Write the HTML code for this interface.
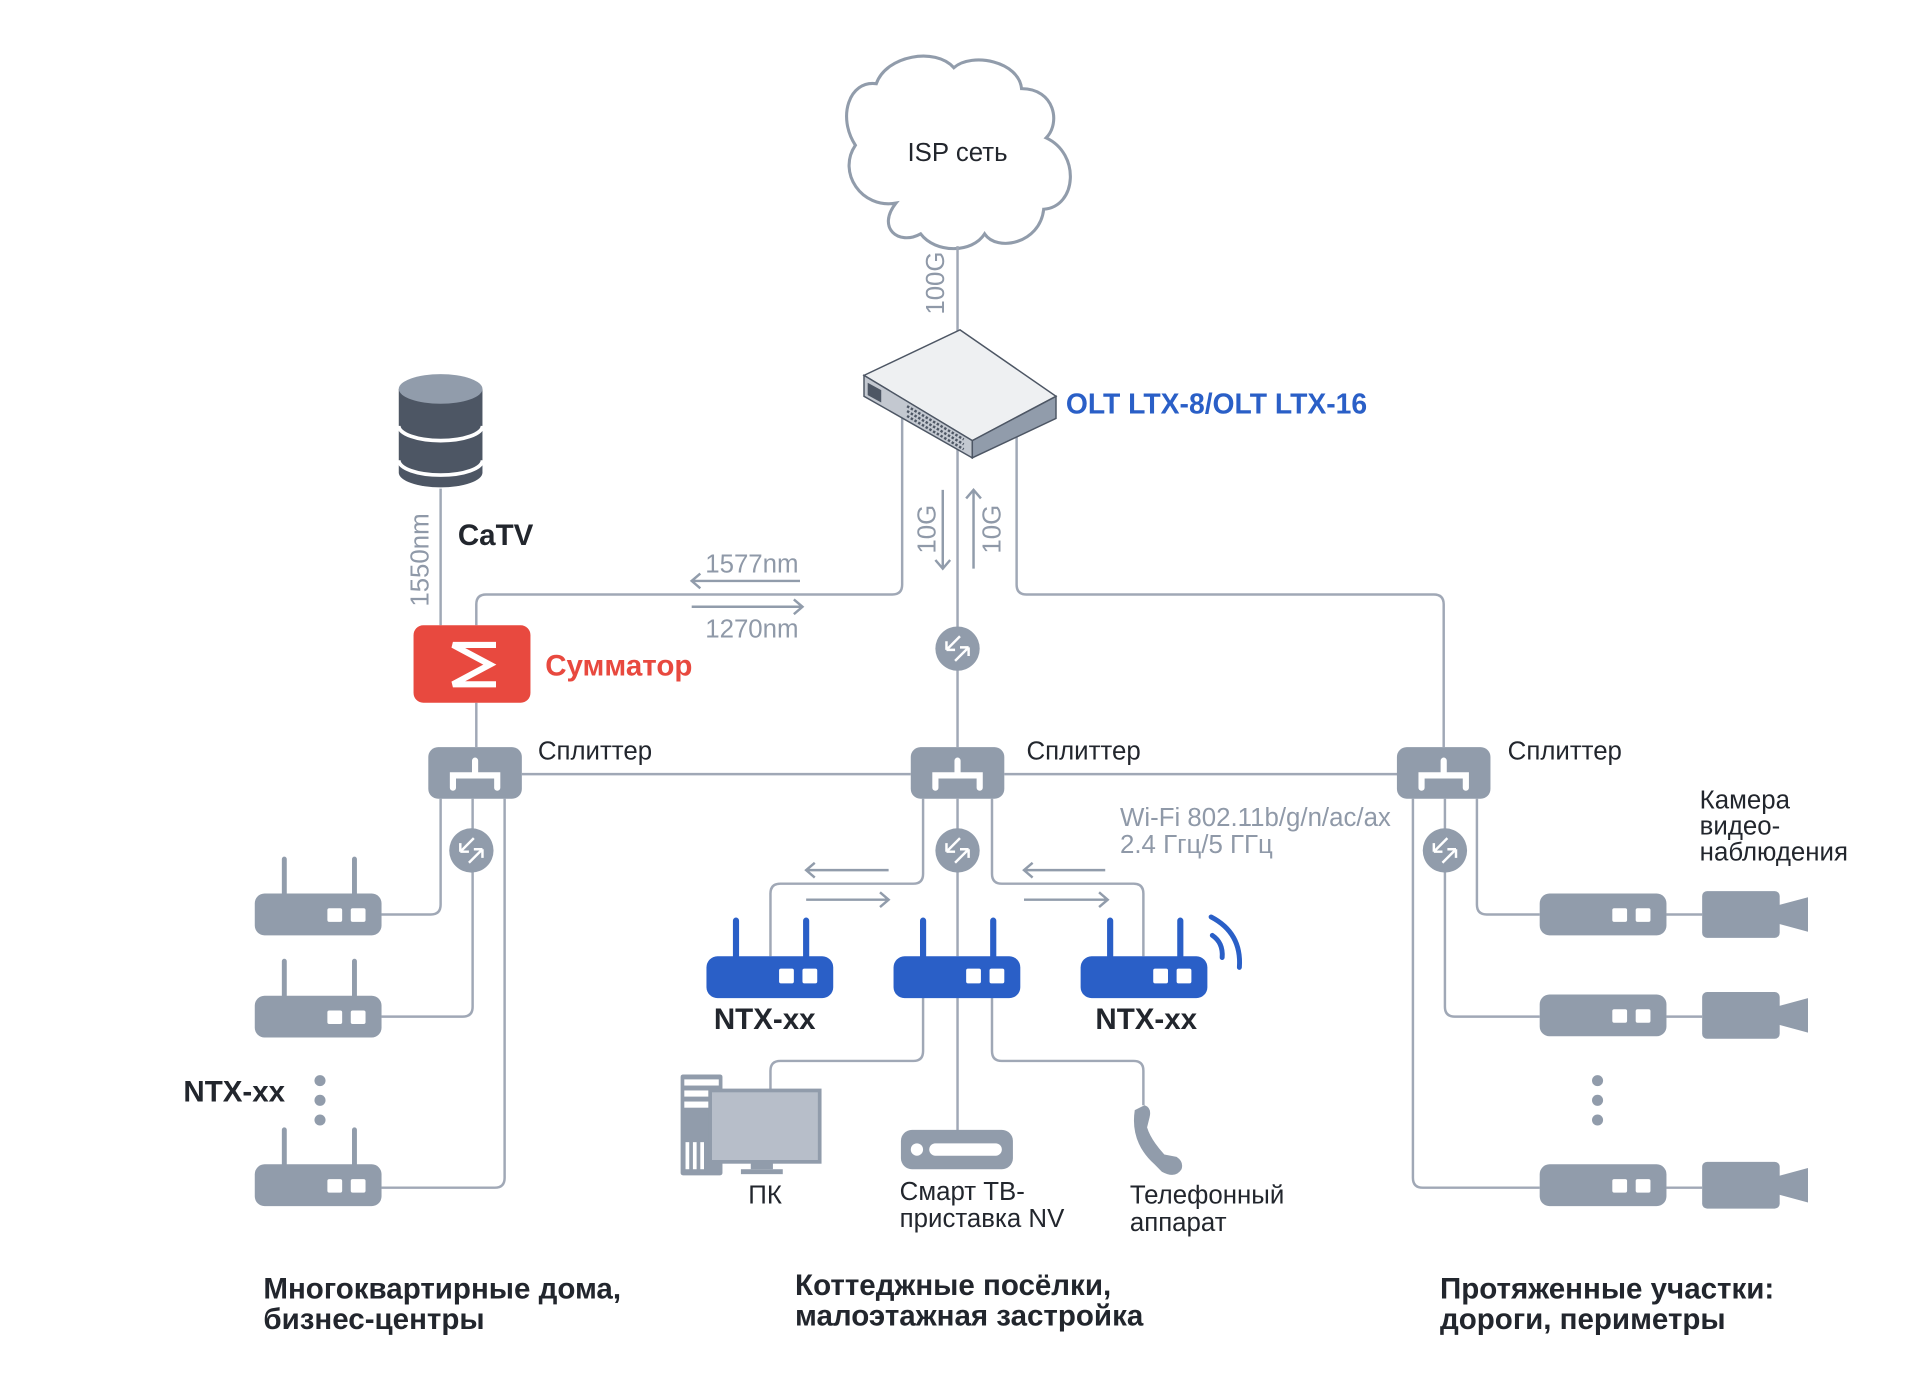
<!DOCTYPE html>
<html><head><meta charset="utf-8"><style>
html,body{margin:0;padding:0;background:#fff;}
svg{display:block;}
text{font-family:"Liberation Sans","DejaVu Sans",sans-serif;}
</style></head><body>
<svg width="1920" height="1400" viewBox="0 0 1560 1137.5" preserveAspectRatio="none" xmlns="http://www.w3.org/2000/svg">
<defs>
<g id="circ"><circle r="18" fill="#919cab"/><path d="M2,-10 L-9,1 M-9,1 v-7 M-9,1 h7 M-2,10 L9,-1 M9,-1 h-7 M9,-1 v7" stroke="#fff" stroke-width="2" fill="none"/></g>
<g id="spl"><rect x="-38" y="-21" width="76" height="42" rx="8" fill="#919cab"/><path d="M-18,12 v-10 h36 v10 M0,2 v-12" stroke="#fff" stroke-width="5" fill="none" stroke-linecap="round"/></g>
<g id="grt"><rect x="0" y="0" width="103" height="34" rx="8" fill="#919cab"/><rect x="59" y="12" width="12" height="11" rx="1.5" fill="#fff"/><rect x="78" y="12" width="12" height="11" rx="1.5" fill="#fff"/></g>
<g id="ant"><path d="M24,0 v-28 M81,0 v-28" stroke="#919cab" stroke-width="4" stroke-linecap="round"/></g>
<g id="brt"><rect x="0" y="0" width="103" height="34" rx="9" fill="#2a5fc7"/><rect x="59" y="10" width="12" height="12" rx="1.5" fill="#fff"/><rect x="78" y="10" width="12" height="12" rx="1.5" fill="#fff"/><path d="M24,0 v-29 M81,0 v-29" stroke="#2a5fc7" stroke-width="5" stroke-linecap="round"/></g>
<g id="cam"><rect x="0" y="0" width="63" height="38" rx="4" fill="#919cab"/><path d="M60,12 L86,5 L86,33 L60,26 Z" fill="#919cab"/></g>
</defs>
<g fill="none" stroke="#a0a8b6" stroke-width="2">
<path d="M728,165 C700,170 680,140 695,118 C680,95 690,65 712,68 C720,45 760,38 775,55 C790,42 828,50 830,72 C857,72 862,100 850,112 C878,125 875,168 848,170 C845,198 810,205 800,190 C790,206 760,206 748,190 C730,200 712,185 728,165 Z" stroke="#919cab" stroke-width="2.5"/>
<path d="M778,200 V290"/>
<path d="M733,330 V475 Q733,483 725,483 H395 Q387,483 387,491 V508"/>
<path d="M778,360 V607"/>
<path d="M826,355 V475 Q826,483 834,483 H1165 Q1173,483 1173,491 V607"/>
<path d="M358,397 V508"/>
<path d="M387,571 V607"/>
<path d="M424,629 H740 M816,629 H1136"/>
<path d="M766,398 V462 M760,455 L766,462 L772,455" stroke="#919cab"/>
<path d="M791,462 V398 M785,405 L791,398 L797,405" stroke="#919cab"/>
<path d="M650,472 H562 M569,466 L562,472 L569,478" stroke="#919cab"/>
<path d="M562,493 H652 M645,487 L652,493 L645,499" stroke="#919cab"/>
<path d="M358,649 V735 Q358,743 350,743 H310"/>
<path d="M384,649 V818 Q384,826 376,826 H310"/>
<path d="M410,649 V957 Q410,965 402,965 H310"/>
<path d="M750,649 V710 Q750,718 742,718 H634 Q626,718 626,726 V777"/>
<path d="M806,649 V710 Q806,718 814,718 H921 Q929,718 929,726 V777"/>
<path d="M778,649 V777"/>
<path d="M722,707 H655 M662,701 L655,707 L662,713 M655,731 H722 M715,725 L722,731 L715,737" stroke="#919cab"/>
<path d="M898,707 H832 M839,701 L832,707 L839,713 M832,731 H900 M893,725 L900,731 L893,737" stroke="#919cab"/>
<path d="M750,810 V854 Q750,862 742,862 H634 Q626,862 626,870 V887"/>
<path d="M778,810 V920"/>
<path d="M806,810 V854 Q806,862 814,862 H921 Q929,862 929,870 V898"/>
<path d="M1200,649 V735 Q1200,743 1208,743 H1251 M1354,743 H1383"/>
<path d="M1174,649 V818 Q1174,826 1182,826 H1251 M1354,826 H1383"/>
<path d="M1148,649 V957 Q1148,965 1156,965 H1251 M1354,965 H1383"/>
</g>
<polygon points="702,305 780,268 858,322 790,358" fill="#eef0f2" stroke="#4d5664" stroke-width="1.2"/>
<polygon points="702,305 790,358 790,372 702,322" fill="#c3c8d0" stroke="#4d5664" stroke-width="1.2"/>
<polygon points="790,358 858,322 858,340 790,372" fill="#919cab" stroke="#4d5664" stroke-width="1.2"/>
<polygon points="705,311 716,317 716,327 705,321" fill="#4d5664"/>
<path d="M737,330 L783,357 M737,334 L783,361 M737,338 L783,365" stroke="#4d5664" stroke-width="2" stroke-dasharray="2,1.5"/>
<path d="M324,316 V384 A34,12 0 0 0 392,384 V316 Z" fill="#4d5664"/>
<ellipse cx="358" cy="316" rx="34" ry="12" fill="#919cab"/>
<path d="M324,346 A34,12 0 0 0 392,346 M324,374 A34,12 0 0 0 392,374" stroke="#fff" stroke-width="3" fill="none"/>
<rect x="336" y="508" width="95" height="63" rx="8" fill="#e8493f"/>
<path d="M403,524 H368 L398,540 L368,556 H403" stroke="#fff" stroke-width="5" fill="none"/>
<use href="#circ" x="778" y="527"/>
<use href="#spl" x="386" y="628"/><use href="#spl" x="778" y="628"/><use href="#spl" x="1173" y="628"/>
<use href="#circ" x="383" y="691"/><use href="#circ" x="778" y="691"/><use href="#circ" x="1174" y="691"/>
<use href="#grt" x="207" y="726"/><use href="#ant" x="207" y="726"/>
<use href="#grt" x="207" y="809"/><use href="#ant" x="207" y="809"/>
<use href="#grt" x="207" y="946"/><use href="#ant" x="207" y="946"/>
<g fill="#919cab"><circle cx="260" cy="878" r="4.5"/><circle cx="260" cy="894" r="4.5"/><circle cx="260" cy="910" r="4.5"/>
<circle cx="1298" cy="878" r="4.5"/><circle cx="1298" cy="894" r="4.5"/><circle cx="1298" cy="910" r="4.5"/></g>
<use href="#brt" x="574" y="777"/><use href="#brt" x="726" y="777"/><use href="#brt" x="878" y="777"/>
<path d="M985,760 Q994,766 993,778 M984,745 Q1009,758 1007,786" stroke="#2a5fc7" stroke-width="4" fill="none" stroke-linecap="round"/>
<rect x="553" y="873" width="34" height="82" rx="2" fill="#919cab"/>
<g fill="#fff"><rect x="556" y="877" width="28" height="5"/><rect x="556" y="886" width="28" height="5"/><rect x="556" y="895" width="28" height="5"/>
<rect x="557" y="928" width="3" height="22"/><rect x="563" y="928" width="3" height="22"/><rect x="569" y="928" width="3" height="22"/></g>
<rect x="577" y="886" width="89" height="58" fill="#b7bec9" stroke="#919cab" stroke-width="3"/>
<rect x="610" y="944" width="18" height="6" fill="#919cab"/><rect x="602" y="950" width="34" height="4" fill="#919cab"/>
<rect x="732" y="918" width="91" height="32" rx="9" fill="#919cab"/>
<circle cx="745" cy="934" r="5" fill="#fff"/><rect x="755" y="929" width="59" height="10" rx="5" fill="#fff"/>
<path d="M922,902 Q918,928 938,946 L944,952 Q955,958 960,950 Q962,944 956,940 L946,938 Q935,926 932,916 L934,908 Q936,900 930,898 Z" fill="#919cab"/>
<use href="#grt" x="1251" y="726"/><use href="#grt" x="1251" y="808"/><use href="#grt" x="1251" y="946"/>
<use href="#cam" x="1383" y="724"/><use href="#cam" x="1383" y="806"/><use href="#cam" x="1383" y="944"/>
<g fill="#22262d" font-size="21">
<text x="778" y="131" text-anchor="middle">ISP сеть</text>
<text x="437" y="617">Сплиттер</text>
<text x="834" y="617">Сплиттер</text>
<text x="1225" y="617">Сплиттер</text>
<text x="608" y="978">ПК</text>
<text x="731" y="975">Смарт ТВ-</text>
<text x="731" y="997">приставка NV</text>
<text x="918" y="978">Телефонный</text>
<text x="918" y="1000">аппарат</text>
<text x="1381" y="657">Камера</text>
<text x="1381" y="678">видео-</text>
<text x="1381" y="699">наблюдения</text>
</g>
<g fill="#22262d" font-size="24" font-weight="bold">
<text x="372" y="443">CaTV</text>
<text x="149" y="895">NTX-xx</text>
<text x="580" y="836">NTX-xx</text>
<text x="890" y="836">NTX-xx</text>
<text x="214" y="1055">Многоквартирные дома,</text>
<text x="214" y="1080">бизнес-центры</text>
<text x="646" y="1052">Коттеджные посёлки,</text>
<text x="646" y="1077">малоэтажная застройка</text>
<text x="1170" y="1055">Протяженные участки:</text>
<text x="1170" y="1080">дороги, периметры</text>
</g>
<text x="866" y="336" font-size="23" font-weight="bold" fill="#2a5fc7">OLT LTX-8/OLT LTX-16</text>
<text x="443" y="549" font-size="24" font-weight="bold" fill="#e8493f">Сумматор</text>
<g fill="#8f99a8" font-size="21">
<text x="573" y="465">1577nm</text>
<text x="573" y="518">1270nm</text>
<text x="910" y="671">Wi-Fi 802.11b/g/n/ac/ax</text>
<text x="910" y="693">2.4 Ггц/5 ГГц</text>
<text transform="translate(767,230) rotate(-90)" text-anchor="middle">100G</text>
<text transform="translate(760,430) rotate(-90)" text-anchor="middle">10G</text>
<text transform="translate(813,430) rotate(-90)" text-anchor="middle">10G</text>
<text transform="translate(348,455) rotate(-90)" text-anchor="middle">1550nm</text>
</g>
</svg>
</body></html>
